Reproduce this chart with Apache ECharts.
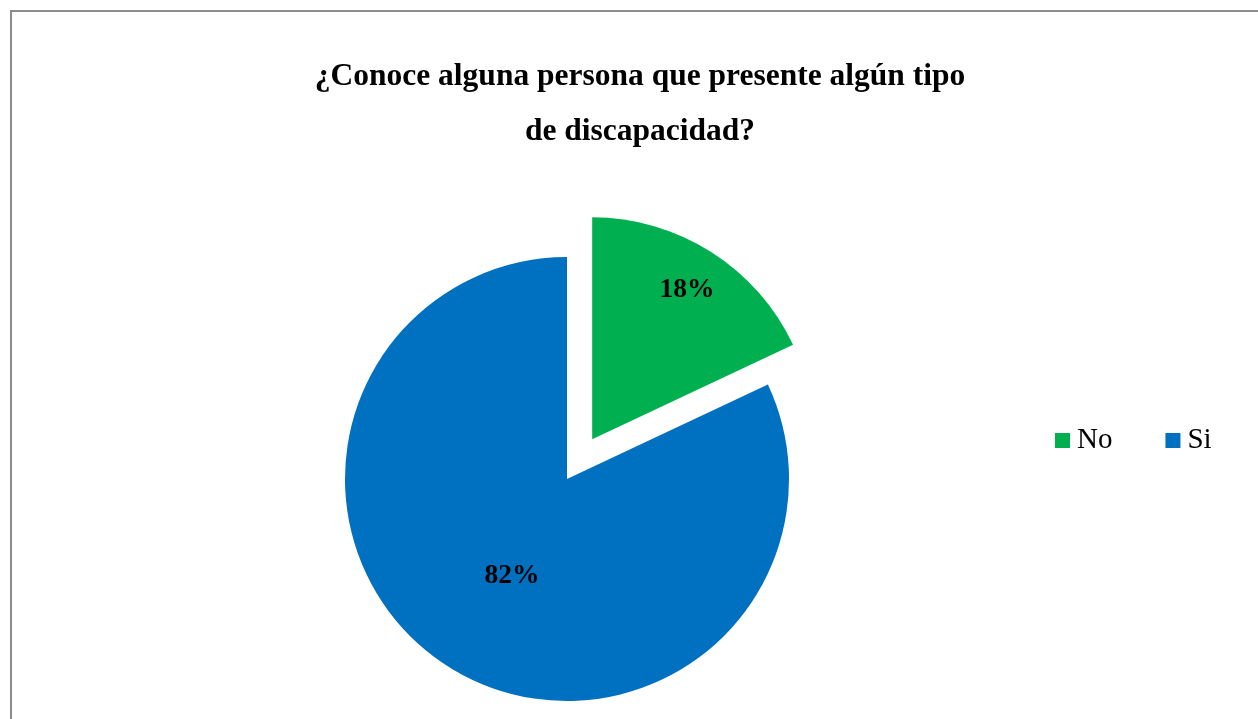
<!DOCTYPE html>
<html>
<head>
<meta charset="utf-8">
<script src="https://cdn.jsdelivr.net/npm/echarts@6/dist/echarts.min.js"></script>
<style>
html,body{margin:0;padding:0;background:#fff;}
#chart{width:1258px;height:719px;}
</style>
</head>
<body>
<div id="chart"></div>
<script>
const titleText = '¿Conoce alguna persona que presente algún tipo\nde discapacidad?';
const categories = ['No', 'Si'];
const values = [18, 82];
const colors = ['#00B050', '#0070C0'];

const total = values.reduce((a, b) => a + b, 0);
const chart = echarts.init(document.getElementById('chart'));
const serif = "'Liberation Serif', 'Times New Roman', serif";
const R = 222;

chart.setOption({
  animation: false,
  backgroundColor: '#fff',
  graphic: [{
    type: 'rect',
    shape: { x: 11, y: 11, width: 1400, height: 900 },
    style: { fill: 'none', stroke: '#8c8c8c', lineWidth: 2 },
    silent: true
  }],
  title: {
    text: titleText,
    left: 640,
    top: 49,
    padding: 0,
    textAlign: 'center',
    textStyle: { fontFamily: serif, fontWeight: 'bold', fontSize: 31.5, lineHeight: 55, color: '#000' }
  },
  legend: {
    data: categories,
    left: 1055,
    top: 426,
    padding: 0,
    orient: 'horizontal',
    icon: 'rect',
    itemWidth: 15,
    itemHeight: 15,
    itemGap: 53,
    textStyle: { fontFamily: serif, fontSize: 29, color: '#000', padding: [3, 0, 0, 2] },
    selectedMode: false
  },
  series: [{
    type: 'pie',
    center: [567, 479],
    radius: R,
    startAngle: 90,
    clockwise: true,
    selectedMode: 'single',
    selectedOffset: 47,
    avoidLabelOverlap: false,
    emphasis: { disabled: true },
    label: {
      show: true,
      position: 'inside',
      formatter: p => Math.round(p.percent) + '%',
      fontFamily: serif,
      fontWeight: 'bold',
      fontSize: 27.5,
      color: '#000'
    },
    labelLine: { show: false },
    labelLayout: function (params) {
      if (params.dataIndex !== 0) return { dx: 6, dy: 1 };
      const mid = (values[0] / total) * Math.PI; // half of the slice angle, from vertical
      const shift = 0.3 * R;
      return { dx: Math.sin(mid) * shift - 2, dy: -Math.cos(mid) * shift + 3 };
    },
    data: categories.map((c, i) => ({
      name: c,
      value: values[i],
      selected: i === 0,
      itemStyle: { color: colors[i] }
    }))
  }]
});
</script>
</body>
</html>
